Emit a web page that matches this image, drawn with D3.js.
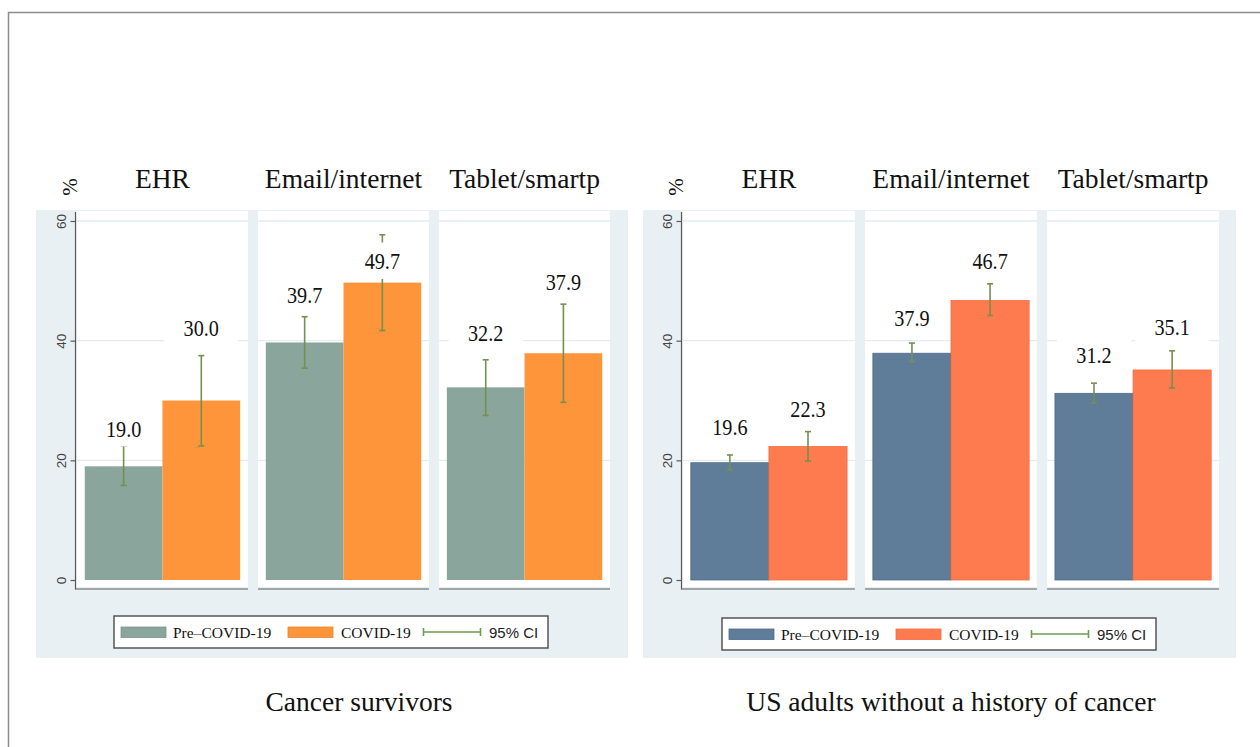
<!DOCTYPE html>
<html>
<head>
<meta charset="utf-8">
<script src="https://cdn.jsdelivr.net/npm/d3@7"></script>
<style>
  html, body { margin: 0; padding: 0; background: #ffffff; }
  svg { display: block; }
</style>
</head>
<body>
<script>
// ---- data -------------------------------------------------------------
const categories = ["EHR", "Email/internet", "Tablet/smartp"];
const seriesNames = ["Pre–COVID-19", "COVID-19"];
const yTicks = [0, 20, 40, 60];
const panelTitles = ["Cancer survivors", "US adults without a history of cancer"];

// Cancer survivors
const survivorsPre = [19.0, 39.7, 32.2];
const survivorsCovid = [30.0, 49.7, 37.9];
const survivorsPreCI = [[15.8, 22.4], [35.4, 44.0], [27.5, 36.8]];
const survivorsCovidCI = [[22.4, 37.5], [41.7, 57.7], [29.7, 46.1]];
// height (in %) at which each value label sits
const survivorsPreLabelAt = [23.9, 46.3, 39.9];
const survivorsCovidLabelAt = [40.8, 51.9, 48.5];

// US adults without a history of cancer
const adultsPre = [19.6, 37.9, 31.2];
const adultsCovid = [22.3, 46.7, 35.1];
const adultsPreCI = [[18.4, 20.9], [36.5, 39.6], [29.6, 32.9]];
const adultsCovidCI = [[19.9, 24.8], [44.2, 49.5], [32.1, 38.3]];
const adultsPreLabelAt = [24.3, 42.5, 36.3];
const adultsCovidLabelAt = [27.2, 51.9, 40.9];

// ---- styling ------------------------------------------------------------
const SERIF = "'Liberation Serif', 'Times New Roman', serif";
const SANS = "'Liberation Sans', Arial, sans-serif";
const PANEL_BG = "#e9f0f3";
const GRID = "#e3ecf1";
const CI_COLOR = "#74904f";
const AXIS = "#5a5a5a";

const svg = d3.select("body").append("svg")
  .attr("width", 1260).attr("height", 747);

svg.append("rect").attr("width", 1260).attr("height", 747).attr("fill", "#ffffff");

// outer frame (top and left edges visible)
svg.append("path")
  .attr("d", "M8.5,747 L8.5,12.5 L1260,12.5")
  .attr("fill", "none").attr("stroke", "#8c8c8c").attr("stroke-width", 1.5);

const y = d3.scaleLinear().domain([0, 60]).range([580, 221]);

function drawPanel(p) {
  const g = svg.append("g");

  // graph region background
  g.append("rect")
    .attr("x", p.bgLeft).attr("y", 210)
    .attr("width", p.bgRight - p.bgLeft).attr("height", 448)
    .attr("fill", PANEL_BG);

  const fx = d3.scaleBand().domain(categories).range(p.facetRange).paddingInner(0.056);
  const bw = fx.bandwidth();
  const bx = d3.scaleBand().domain(seriesNames).range([0, bw]).paddingOuter(0.1);

  const series = [
    { name: seriesNames[0], values: p.pre, ci: p.preCI, labelAt: p.preLabelAt, color: p.colors[0], stroke: p.strokes[0] },
    { name: seriesNames[1], values: p.covid, ci: p.covidCI, labelAt: p.covidLabelAt, color: p.colors[1], stroke: p.strokes[1] }
  ];

  categories.forEach((cat, i) => {
    const f = g.append("g").attr("transform", `translate(${fx(cat)},0)`);

    // plot area
    f.append("rect")
      .attr("x", 0).attr("y", 211).attr("width", bw).attr("height", 376)
      .attr("fill", "#ffffff");

    // grid lines
    f.selectAll("line.grid")
      .data(yTicks.filter(t => t > 0))
      .join("line")
      .attr("class", "grid")
      .attr("x1", 0).attr("x2", bw)
      .attr("y1", d => y(d)).attr("y2", d => y(d))
      .attr("stroke", GRID).attr("stroke-width", 1.3);

    // bars
    f.selectAll("rect.bar")
      .data(series)
      .join("rect")
      .attr("class", "bar")
      .attr("x", d => bx(d.name))
      .attr("y", d => y(d.values[i]))
      .attr("width", bx.bandwidth())
      .attr("height", d => y(0) - y(d.values[i]))
      .attr("fill", d => d.color)
      .attr("stroke", d => d.stroke)
      .attr("stroke-width", d => d.stroke === "none" ? 0 : 0.8);

    // 95% confidence intervals
    series.forEach(s => {
      const cx = bx(s.name) + bx.bandwidth() / 2;
      const [lo, hi] = s.ci[i];
      const e = f.append("g").attr("stroke", CI_COLOR).attr("stroke-width", 1.6).attr("fill", "none");
      e.append("line").attr("x1", cx).attr("x2", cx).attr("y1", y(lo)).attr("y2", y(hi));
      e.append("line").attr("x1", cx - 3).attr("x2", cx + 3).attr("y1", y(lo)).attr("y2", y(lo));
      e.append("line").attr("x1", cx - 3).attr("x2", cx + 3).attr("y1", y(hi)).attr("y2", y(hi));
    });

    // value labels on white boxes
    series.forEach(s => {
      const cx = bx(s.name) + bx.bandwidth() / 2;
      const base = y(s.labelAt[i]);
      f.append("rect")
        .attr("x", cx - 37).attr("y", base - 27)
        .attr("width", 74).attr("height", 36.5)
        .attr("fill", "#ffffff");
      f.append("text")
        .attr("transform", `translate(${cx},${base}) scale(0.86,1)`)
        .attr("text-anchor", "middle")
        .attr("font-family", SERIF).attr("font-size", 23.5)
        .attr("fill", "#111111")
        .text(d3.format(".1f")(s.values[i]));
    });

    // bottom axis line of the facet
    f.append("line")
      .attr("x1", i === 0 ? p.axisX - fx(cat) : 0).attr("x2", bw)
      .attr("y1", 589).attr("y2", 589)
      .attr("stroke", AXIS).attr("stroke-width", 1.2);

    // facet title
    f.append("text")
      .attr("x", bw / 2).attr("y", 188)
      .attr("text-anchor", "middle")
      .attr("font-family", SERIF).attr("font-size", 27.5)
      .attr("fill", "#111111")
      .text(cat);
  });

  // y axis
  const ax = g.append("g").attr("transform", `translate(${p.axisX},0)`)
    .call(d3.axisLeft(y).tickValues(yTicks).tickSize(5).tickFormat(d3.format("d")));
  ax.select(".domain").remove();
  ax.selectAll(".tick line").attr("stroke", AXIS).attr("stroke-width", 1.2);
  ax.selectAll(".tick text")
    .attr("x", null).attr("dy", null)
    .attr("transform", "translate(-14,0) rotate(-90)")
    .attr("text-anchor", "middle")
    .attr("dominant-baseline", "central")
    .attr("font-family", SANS).attr("font-size", 13.5)
    .attr("fill", "#444444");
  g.append("line")
    .attr("x1", p.axisX).attr("x2", p.axisX)
    .attr("y1", 212).attr("y2", 589.6)
    .attr("stroke", AXIS).attr("stroke-width", 1.2);

  // y axis title
  g.append("text")
    .attr("transform", `translate(${p.axisX - 6},187) rotate(-90)`)
    .attr("text-anchor", "middle")
    .attr("dominant-baseline", "central")
    .attr("font-family", SERIF).attr("font-size", 21)
    .attr("fill", "#111111")
    .text("%");

  // legend
  const lg = g.append("g").attr("transform", `translate(${p.legendX},${p.legendY})`);
  lg.append("rect")
    .attr("x", 0).attr("y", 0).attr("width", 434).attr("height", 32)
    .attr("fill", "#ffffff").attr("stroke", "#555555").attr("stroke-width", 1.5);
  const swatchX = [7, 174];
  const textX = [59, 227];
  series.forEach((s, k) => {
    lg.append("rect")
      .attr("x", swatchX[k]).attr("y", 11).attr("width", 45).attr("height", 10.5)
      .attr("fill", s.color).attr("stroke", s.stroke === "none" ? d3.color(s.color).darker(0.3) : s.stroke)
      .attr("stroke-width", 0.8);
    lg.append("text")
      .attr("x", textX[k]).attr("y", 22)
      .attr("font-family", SERIF).attr("font-size", 15.5)
      .attr("fill", "#111111")
      .text(s.name);
  });
  const ci = lg.append("g").attr("stroke", "#6f9a52").attr("stroke-width", 1.6);
  ci.append("line").attr("x1", 309).attr("x2", 367).attr("y1", 16).attr("y2", 16);
  ci.append("line").attr("x1", 309.5).attr("x2", 309.5).attr("y1", 12).attr("y2", 20);
  ci.append("line").attr("x1", 366.5).attr("x2", 366.5).attr("y1", 12).attr("y2", 20);
  lg.append("text")
    .attr("x", 375).attr("y", 22)
    .attr("font-family", SANS).attr("font-size", 15)
    .attr("fill", "#222222")
    .text("95% CI");

  // panel caption
  svg.append("text")
    .attr("x", p.captionX).attr("y", 711)
    .attr("text-anchor", "middle")
    .attr("font-family", SERIF).attr("font-size", 27.5)
    .attr("fill", "#111111")
    .text(p.caption);
}

drawPanel({
  bgLeft: 36, bgRight: 628, axisX: 75.5, facetRange: [77, 610],
  legendX: 114, legendY: 616, captionX: 359, caption: panelTitles[0],
  pre: survivorsPre, covid: survivorsCovid,
  preCI: survivorsPreCI, covidCI: survivorsCovidCI,
  preLabelAt: survivorsPreLabelAt, covidLabelAt: survivorsCovidLabelAt,
  colors: ["#8aa59b", "#fe953a"], strokes: ["none", "none"]
});

drawPanel({
  bgLeft: 643, bgRight: 1236, axisX: 681.5, facetRange: [683, 1219],
  legendX: 722, legendY: 618, captionX: 951, caption: panelTitles[1],
  pre: adultsPre, covid: adultsCovid,
  preCI: adultsPreCI, covidCI: adultsCovidCI,
  preLabelAt: adultsPreLabelAt, covidLabelAt: adultsCovidLabelAt,
  colors: ["#5f7d99", "#fe7b50"], strokes: ["#4d6b87", "#f46b3e"]
});
</script>
</body>
</html>
